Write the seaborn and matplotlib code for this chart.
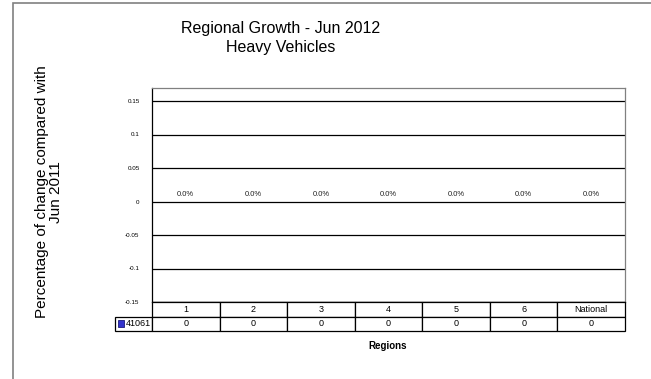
import matplotlib
matplotlib.use('Agg')
import matplotlib.pyplot as plt
import pandas as pd
import seaborn as sns
from matplotlib.patches import Rectangle

regions = ['1', '2', '3', '4', '5', '6', 'National']
growth = [0, 0, 0, 0, 0, 0, 0]
series_name = '41061'
yticks = [-0.15, -0.1, -0.05, 0, 0.05, 0.1, 0.15]
ytick_labels = ['-0.15', '-0.1', '-0.05', '0', '0.05', '0.1', '0.15']

sns.set_style('white')
plt.rcParams['font.family'] = ['Liberation Sans', 'DejaVu Sans']
plt.rcParams['text.color'] = 'black'
plt.rcParams['ytick.color'] = 'black'

df = pd.DataFrame({'Region': regions, 'Growth': growth})

fig = plt.figure(figsize=(6.51, 3.79), dpi=100)

# outer chart frame (left and top edges visible)
fig.patches.append(Rectangle((13 / 651, -0.1), 1.0, 1 + 0.1 - 3 / 379,
                             transform=fig.transFigure, fill=False,
                             edgecolor='#808080', linewidth=1.2))

ax = fig.add_axes([152 / 651, 1 - 302 / 379, 473 / 651, 214 / 379])
sns.barplot(data=df, x='Region', y='Growth', color='#3333cc', ax=ax,
            width=0.5, linewidth=0)
ax.set_ylim(-0.15, -0.15 + 0.3 * 214 / 201)
ax.set_yticks(yticks)
ax.set_yticklabels(ytick_labels, fontsize=4.5)
ax.tick_params(axis='y', length=3, width=0.8, pad=6, color='black')
ax.set_xticks([])
ax.set_xlabel('')
ax.set_ylabel('')
for y in yticks:
    ax.axhline(y, color='black', linewidth=0.9, zorder=0)
for s in ax.spines.values():
    s.set_linewidth(0.9)
    s.set_color('black')
ax.spines['top'].set_color('#808080')
ax.spines['right'].set_color('#808080')

for i, v in enumerate(growth):
    ax.text(i, v + 0.005, f'{v:.1%}', ha='center', va='bottom', fontsize=5.5,
            color='#222222')

# data table under the plot
tax = fig.add_axes([115 / 651, 1 - 331 / 379, 510 / 651, 29 / 379])
tax.axis('off')
cells = [[''] + regions, [series_name] + [str(v) for v in growth]]
first_w = 37 / 510
other_w = (1 - first_w) / len(regions)
tbl = tax.table(cellText=cells, cellLoc='center', bbox=[0, 0, 1, 1],
                colWidths=[first_w] + [other_w] * len(regions))
tbl.auto_set_font_size(False)
tbl.set_fontsize(6.5)
for (r, c), cell in tbl.get_celld().items():
    cell.set_linewidth(0.9)
    cell.get_text().set_color('black')
    if r == 0 and c == 0:
        cell.visible_edges = ''
tbl[1, 0].get_text().set_ha('right')
tbl[1, 0].PAD = 0.04
tax.add_patch(Rectangle((0.006, 0.14), 0.011, 0.24, transform=tax.transAxes,
                        facecolor='#3333cc', edgecolor='#000066', linewidth=0.5,
                        zorder=5, clip_on=False))

fig.text(388 / 651, 1 - 346 / 379, 'Regions', ha='center', va='center',
         fontsize=7, fontweight='bold')
fig.text(281 / 651, 1 - 38 / 379, 'Regional Growth - Jun 2012\nHeavy Vehicles',
         ha='center', va='center', fontsize=11.5, linespacing=1.3)
fig.text(49 / 651, 1 - 192 / 379, 'Percentage of change compared with\nJun 2011',
         ha='center', va='center', rotation=90, fontsize=11, linespacing=1.0)

fig.savefig('out.png', dpi=100)
